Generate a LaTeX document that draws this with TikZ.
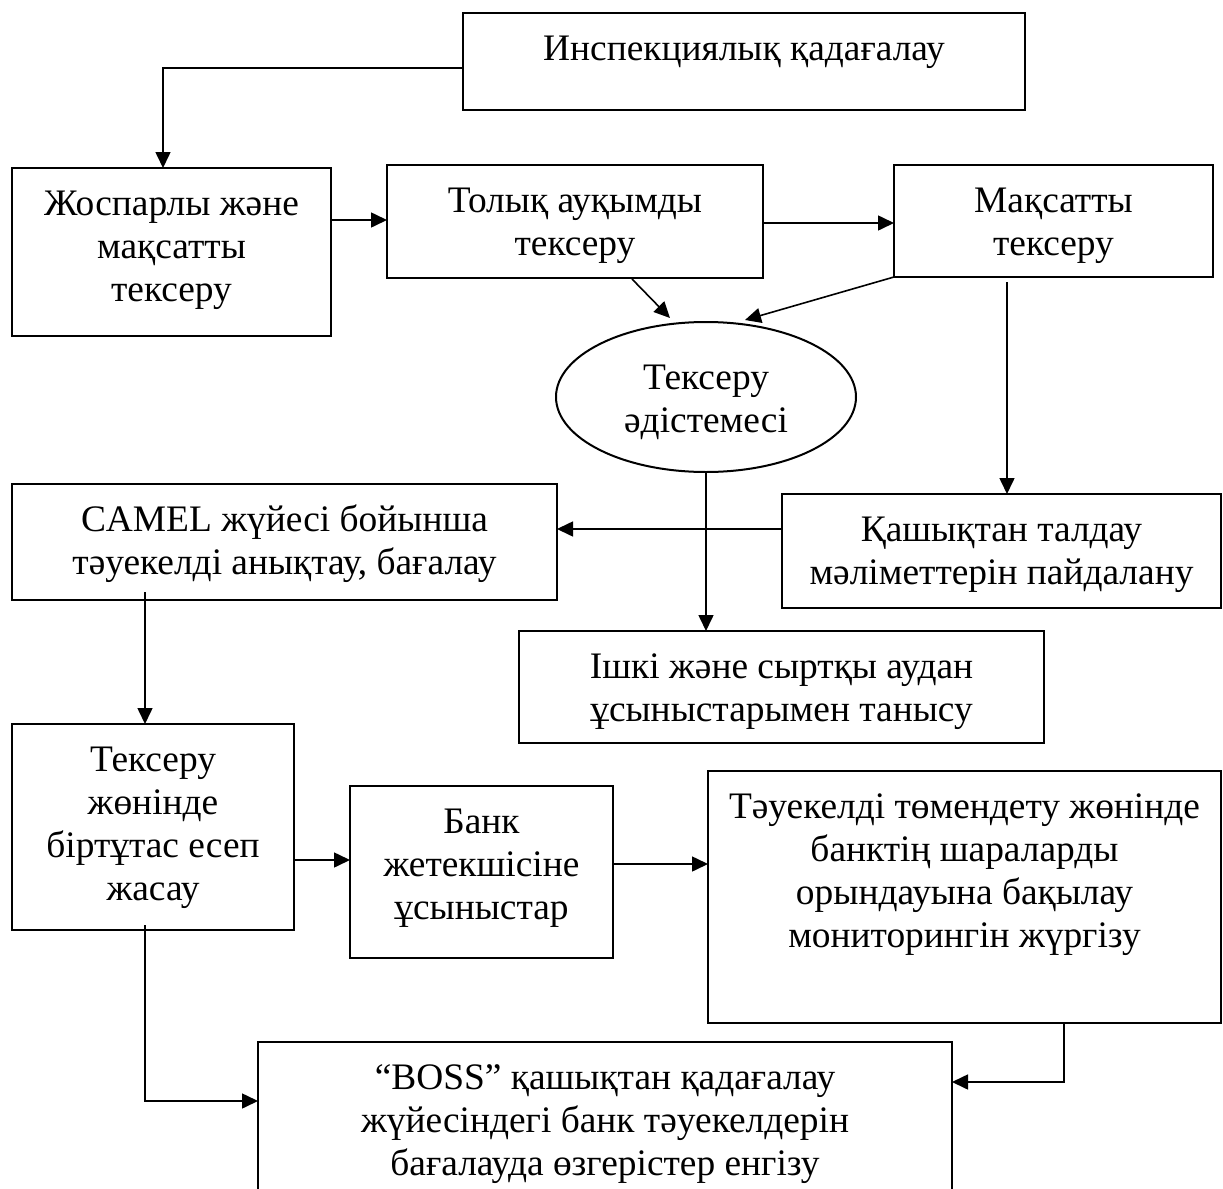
\documentclass[tikz,border=0pt]{standalone}
\usepackage{fontspec}
\setmainfont{Liberation Serif}
\usetikzlibrary{arrows.meta,shapes.geometric,calc}
\newlength\pxu
\setlength\pxu{0.5pt}
\newcommand{\bx}[3]{\parbox[c][#2\pxu][t]{#1\pxu}{\centering\vspace*{8.5pt}\begin{tabular}[t]{@{}c@{}}#3\end{tabular}\par}}
\tikzset{
  rbox/.style={draw, line width=1pt, inner sep=0pt, outer sep=0pt, anchor=north west},
  conn/.style={line width=0.8pt, -{Triangle[length=8pt,width=7.5pt]}},
}
\begin{document}
\begin{tikzpicture}[x=0.5pt, y=-0.5pt, font=\fontsize{18.7}{21.5}\selectfont]
\useasboundingbox (0,0) rectangle (1223,1189);
\fill[white] (0,0) rectangle (1223,1189);
\clip (0,0) rectangle (1223,1189);

\node[rbox] (B1) at (463,13) {\bx{562}{97}{Инспекциялық қадағалау}};
\node[rbox] (B2) at (12,168) {\bx{319}{168}{Жоспарлы және\\мақсатты\\тексеру}};
\node[rbox] (B3) at (387,165) {\bx{376}{113}{Толық ауқымды\\тексеру}};
\node[rbox] (B4) at (894,165) {\bx{319}{112}{Мақсатты\\тексеру}};
\node[draw, ellipse, line width=1pt, minimum width=150pt, minimum height=75pt, inner sep=0pt] (E) at (706,397) {\begin{tabular}{@{}c@{}}\rule{0pt}{20pt}Тексеру\\әдістемесі\end{tabular}};
\node[rbox] (B6) at (12,484) {\bx{545}{116}{CAMEL жүйесі бойынша\\тәуекелді анықтау, бағалау}};
\node[rbox] (B7) at (782,494) {\bx{439}{114}{Қашықтан талдау\\мәліметтерін пайдалану}};
\node[rbox] (B8) at (519,631) {\bx{525}{112}{Ішкі және сыртқы аудан\\ұсыныстарымен танысу}};
\node[rbox] (B9) at (12,724) {\bx{282}{206}{Тексеру\\жөнінде\\біртұтас есеп\\жасау}};
\node[rbox] (B10) at (350,786) {\bx{263}{172}{Банк\\жетекшісіне\\ұсыныстар}};
\node[rbox] (B11) at (708,771) {\bx{513}{252}{Тәуекелді төмендету жөнінде\\банктің шараларды\\орындауына бақылау\\мониторингін жүргізу}};
\node[rbox] (B12) at (258,1042) {\bx{694}{160}{“BOSS” қашықтан қадағалау\\жүйесіндегі банк тәуекелдерін\\бағалауда өзгерістер енгізу}};

\draw[conn] ($(B1.north west)+(0,55)$) -| ($(B2.north west)+(151,0)$);
\draw[conn] ($(B2.north east)+(0,52)$) -- ($(B3.north west)+(0,55)$);
\draw[conn] ($(B3.north east)+(0,58)$) -- ($(B4.north west)+(0,58)$);
\draw[conn] ($(B3.south west)+(245,1)$) -- ($(E.center)+(-36,-79)$);
\draw[conn] (B4.south west) -- ($(E.center)+(39,-77)$);
\draw[conn] ($(B4.south west)+(113,5)$) -- ($(B7.north west)+(225,0)$);
\draw[conn] ($(B7.north west)+(0,35)$) -- ($(B6.north east)+(0,45)$);
\draw[conn] (E.south) -- (E.south |- B8.north);
\draw[conn] ($(B6.south west)+(133,-8)$) -- ($(B9.north west)+(133,0)$);
\draw[conn] ($(B9.north east)+(0,136)$) -- ($(B10.north west)+(0,74)$);
\draw[conn] ($(B10.north east)+(0,78)$) -- ($(B11.north west)+(0,93)$);
\draw[conn] ($(B9.south west)+(133,-5)$) |- ($(B12.north west)+(0,59)$);
\draw[conn] ($(B11.south west)+(356,0)$) |- ($(B12.north east)+(0,40)$);
\end{tikzpicture}
\end{document}
